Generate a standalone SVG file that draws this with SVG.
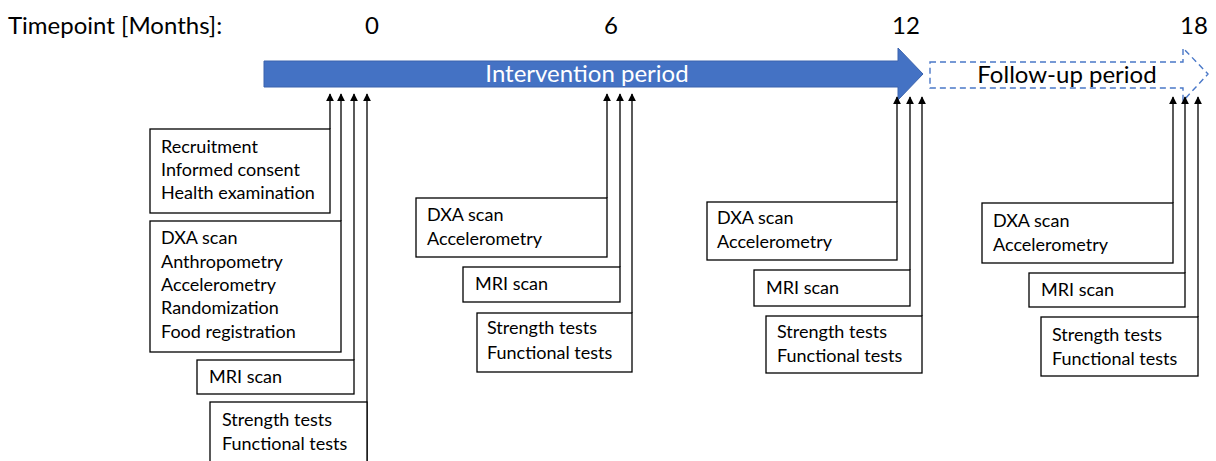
<svg xmlns="http://www.w3.org/2000/svg" width="1216" height="461" viewBox="0 0 1216 461">
  <style>
    text { font-family: Lato, "Liberation Sans", sans-serif; fill: #000; }
    .lbl { font-size: 18px; }
    .head { font-size: 24px; }
    .box { fill: #fff; stroke: #000; stroke-width: 1.3; }
    .con { fill: none; stroke: #000; stroke-width: 1.3; marker-end: url(#tip); }
  </style>
  <defs>
    <marker id="tip" viewBox="0 0 10 10" refX="9" refY="5" markerWidth="8" markerHeight="8" markerUnits="userSpaceOnUse" orient="auto">
      <path d="M0,0 L10,5 L0,10 z" fill="#000"/>
    </marker>
  </defs>

  <!-- time axis labels -->
  <g id="timeline-labels" class="head">
    <text x="8" y="34">Timepoint [Months]:</text>
    <text x="372" y="34" text-anchor="middle">0</text>
    <text x="611" y="34" text-anchor="middle">6</text>
    <text x="906" y="34" text-anchor="middle">12</text>
    <text x="1194" y="34" text-anchor="middle">18</text>
  </g>

  <!-- intervention period arrow -->
  <g id="intervention">
    <path d="M264,61 L898,61 L898,48 L923,74 L898,100 L898,87 L264,87 z" fill="#4472c4" stroke="#3a63ad" stroke-width="1"/>
    <text x="587" y="82" text-anchor="middle" class="head" style="fill:#fff">Intervention period</text>
  </g>

  <!-- follow-up period arrow -->
  <g id="followup">
    <path d="M930,62 L1183,62 L1183,48 L1208,74 L1183,101 L1183,88 L930,88 z" fill="none" stroke="#4a78c8" stroke-width="1.4" stroke-dasharray="6,4"/>
    <text x="1067" y="83" text-anchor="middle" class="head">Follow-up period</text>
  </g>

  <!-- connectors from each task box up to its timepoint -->
  <g id="connectors">
    <line class="con" x1="330" y1="129" x2="330" y2="94"/>
    <line class="con" x1="341" y1="221" x2="341" y2="94"/>
    <line class="con" x1="354" y1="360" x2="354" y2="94"/>
    <line class="con" x1="367" y1="461" x2="367" y2="94"/>

    <line class="con" x1="607" y1="198" x2="607" y2="94"/>
    <line class="con" x1="620" y1="267" x2="620" y2="94"/>
    <line class="con" x1="632" y1="313" x2="632" y2="94"/>

    <line class="con" x1="897" y1="202" x2="897" y2="97"/>
    <line class="con" x1="910" y1="270" x2="910" y2="97"/>
    <line class="con" x1="922" y1="316" x2="922" y2="97"/>

    <line class="con" x1="1173" y1="203" x2="1173" y2="97"/>
    <line class="con" x1="1185" y1="273" x2="1185" y2="97"/>
    <line class="con" x1="1198" y1="317" x2="1198" y2="97"/>
  </g>

  <!-- month 0 -->
  <g id="m0-enrol">
    <rect class="box" x="150" y="129" width="180" height="84"/>
    <text class="lbl" x="161" y="153">Recruitment</text>
    <text class="lbl" x="161" y="176">Informed consent</text>
    <text class="lbl" x="161" y="199">Health examination</text>
  </g>
  <g id="m0-baseline">
    <rect class="box" x="150" y="221" width="191" height="131"/>
    <text class="lbl" x="161" y="244">DXA scan</text>
    <text class="lbl" x="161" y="268">Anthropometry</text>
    <text class="lbl" x="161" y="291">Accelerometry</text>
    <text class="lbl" x="161" y="314">Randomization</text>
    <text class="lbl" x="161" y="338">Food registration</text>
  </g>
  <g id="m0-mri">
    <rect class="box" x="197" y="360" width="157" height="34"/>
    <text class="lbl" x="209" y="383">MRI scan</text>
  </g>
  <g id="m0-tests">
    <rect class="box" x="210" y="402" width="157" height="70"/>
    <text class="lbl" x="222" y="426">Strength tests</text>
    <text class="lbl" x="222" y="450">Functional tests</text>
  </g>

  <!-- month 6 -->
  <g id="m6-dxa">
    <rect class="box" x="416" y="198" width="191" height="59"/>
    <text class="lbl" x="427" y="221">DXA scan</text>
    <text class="lbl" x="427" y="245">Accelerometry</text>
  </g>
  <g id="m6-mri">
    <rect class="box" x="463" y="267" width="157" height="35"/>
    <text class="lbl" x="475" y="290">MRI scan</text>
  </g>
  <g id="m6-tests">
    <rect class="box" x="477" y="313" width="155" height="59"/>
    <text class="lbl" x="487" y="334">Strength tests</text>
    <text class="lbl" x="487" y="359">Functional tests</text>
  </g>

  <!-- month 12 -->
  <g id="m12-dxa">
    <rect class="box" x="707" y="202" width="190" height="58"/>
    <text class="lbl" x="717" y="224">DXA scan</text>
    <text class="lbl" x="717" y="248">Accelerometry</text>
  </g>
  <g id="m12-mri">
    <rect class="box" x="754" y="270" width="156" height="36"/>
    <text class="lbl" x="766" y="294">MRI scan</text>
  </g>
  <g id="m12-tests">
    <rect class="box" x="766" y="316" width="156" height="57"/>
    <text class="lbl" x="777" y="338">Strength tests</text>
    <text class="lbl" x="777" y="362">Functional tests</text>
  </g>

  <!-- month 18 -->
  <g id="m18-dxa">
    <rect class="box" x="982" y="203" width="191" height="60"/>
    <text class="lbl" x="993" y="227">DXA scan</text>
    <text class="lbl" x="993" y="251">Accelerometry</text>
  </g>
  <g id="m18-mri">
    <rect class="box" x="1029" y="273" width="156" height="34"/>
    <text class="lbl" x="1041" y="296">MRI scan</text>
  </g>
  <g id="m18-tests">
    <rect class="box" x="1041" y="317" width="157" height="59"/>
    <text class="lbl" x="1052" y="341">Strength tests</text>
    <text class="lbl" x="1052" y="365">Functional tests</text>
  </g>
</svg>
